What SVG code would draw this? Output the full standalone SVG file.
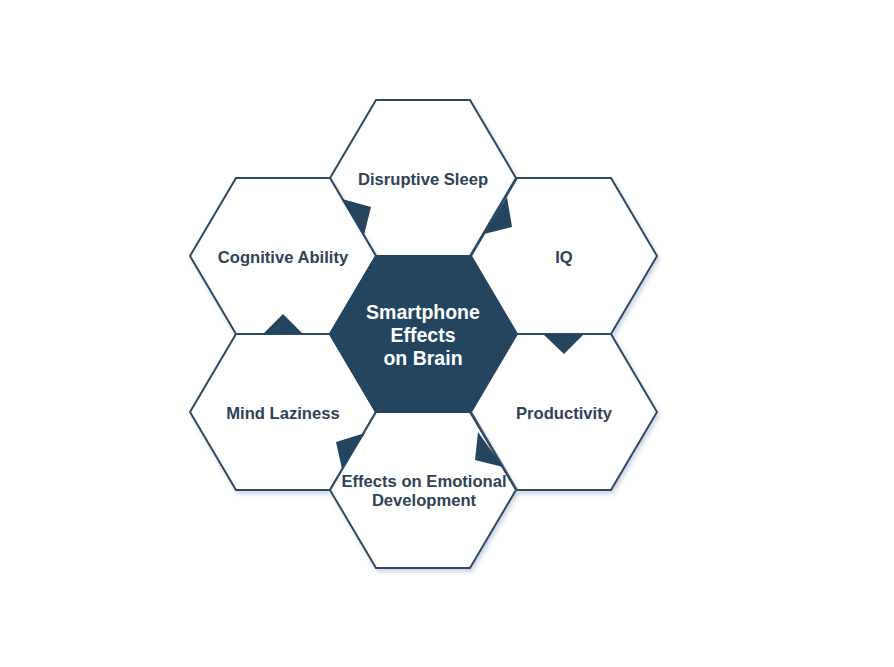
<svg xmlns="http://www.w3.org/2000/svg" xmlns:xlink="http://www.w3.org/1999/xlink" width="894" height="667" viewBox="0 0 894 667">
<style>
.hex{fill:#ffffff;stroke:#2d4862;stroke-width:2;stroke-linejoin:miter}
.core{fill:#24455f;stroke:#24455f;stroke-width:2}
.lbl{font-family:"Liberation Sans",Arial,sans-serif;font-weight:bold;font-size:16.6px;fill:#2f4257;text-anchor:middle}
.clbl{font-family:"Liberation Sans",Arial,sans-serif;font-weight:bold;font-size:19.5px;fill:#ffffff;text-anchor:middle}
.tri{fill:#24455f}
</style>
<defs>
<polygon id="hx" points="-93,0 -47,-78 47,-78 93,0 47,78 -47,78"/>
<filter id="sh" x="-10%" y="-10%" width="125%" height="125%">
<feDropShadow dx="2" dy="3" stdDeviation="2" flood-color="#8fa3c0" flood-opacity="0.45"/>
</filter>
</defs>
<rect width="894" height="667" fill="#ffffff"/>
<g id="node-sleep"><use xlink:href="#hx" href="#hx" class="hex" filter="url(#sh)" transform="translate(423,178)"/><text class="lbl" x="423" y="185">Disruptive Sleep</text></g>
<g id="node-cognitive"><use xlink:href="#hx" href="#hx" class="hex" filter="url(#sh)" transform="translate(283,256)"/><text class="lbl" x="283" y="263">Cognitive Ability</text></g>
<g id="node-iq"><use xlink:href="#hx" href="#hx" class="hex" filter="url(#sh)" transform="translate(564,256)"/><text class="lbl" x="564" y="263">IQ</text></g>
<g id="node-laziness"><use xlink:href="#hx" href="#hx" class="hex" filter="url(#sh)" transform="translate(283,412)"/><text class="lbl" x="283" y="419">Mind Laziness</text></g>
<g id="node-productivity"><use xlink:href="#hx" href="#hx" class="hex" filter="url(#sh)" transform="translate(564,412)"/><text class="lbl" x="564" y="419">Productivity</text></g>
<g id="node-emotional"><use xlink:href="#hx" href="#hx" class="hex" filter="url(#sh)" transform="translate(423,490)"/><text class="lbl" x="424" y="487">Effects on Emotional</text><text class="lbl" x="424" y="506">Development</text></g>
<g id="node-center"><use xlink:href="#hx" href="#hx" class="core" transform="translate(423,334)"/><text class="clbl" x="423" y="319">Smartphone</text><text class="clbl" x="423" y="342">Effects</text><text class="clbl" x="423" y="365">on Brain</text></g>
<g id="connectors">
<polygon class="tri" points="342,199 371,207 364,235"/>
<polygon class="tri" points="507,197 512,227 484,234"/>
<polygon class="tri" points="543,334 584,334 564,354"/>
<polygon class="tri" points="478,432 475,460 503,467"/>
<polygon class="tri" points="365,433 336,442 342,469"/>
<polygon class="tri" points="263,334 303,334 283,314"/>
</g>
</svg>
